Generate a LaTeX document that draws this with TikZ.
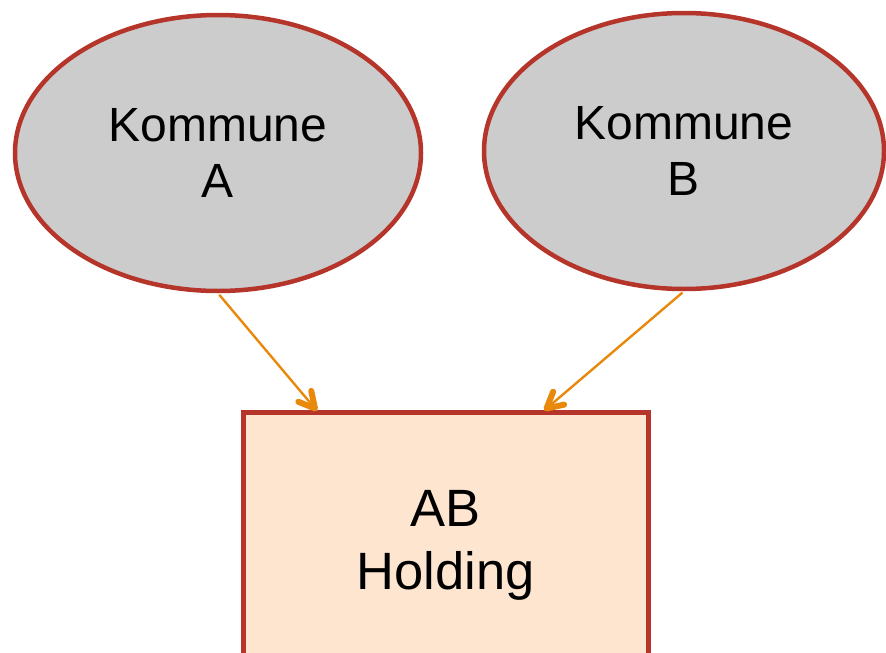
\documentclass[tikz,border=0pt]{standalone}
\usepackage{fontspec}
\setmainfont{Liberation Sans}
\usetikzlibrary{shapes.geometric,calc}
\definecolor{bordred}{HTML}{B5352B}
\definecolor{ellgray}{HTML}{CCCCCC}
\definecolor{boxfill}{HTML}{FDE5D0}
\definecolor{arrorange}{HTML}{E8890C}
\tikzset{
  kommune/.style={ellipse, draw=bordred, fill=ellgray, line width=4.5pt, inner sep=0pt,
    align=center, font=\fontsize{48}{56}\selectfont},
  holding/.style={rectangle, draw=bordred, fill=boxfill, line width=5pt, inner sep=0pt,
    align=center, font=\fontsize{52.5}{63}\selectfont},
  link/.style={draw=arrorange, line width=2.4pt, shorten <=2pt},
  barb/.style={draw=arrorange, line width=6pt, line cap=round, line join=round}
}
\begin{document}
\begin{tikzpicture}[x=1pt,y=-1pt]
\useasboundingbox (0,0) rectangle (886,653);
\node[kommune, minimum width=406pt, minimum height=276pt] (A) at (218,153) {Kommune\\A};
\node[kommune, minimum width=400pt, minimum height=276pt] (B) at (684,151) {Kommune\\B};
\node[holding, minimum width=405pt, minimum height=266pt] (H) at (445.5,545) {AB\\Holding};
\coordinate (Ha) at (315,408.5);
\coordinate (Hb) at (546.5,408.5);
\draw[link] (A.south) -- (Ha);
\draw[link] (B.south) -- (Hb);
\draw[barb] ($(Ha)!18pt!28:(A.south)$) -- (Ha) -- ($(Ha)!18pt!-28:(A.south)$);
\draw[barb] ($(Hb)!18pt!28:(B.south)$) -- (Hb) -- ($(Hb)!18pt!-28:(B.south)$);
\end{tikzpicture}
\end{document}
